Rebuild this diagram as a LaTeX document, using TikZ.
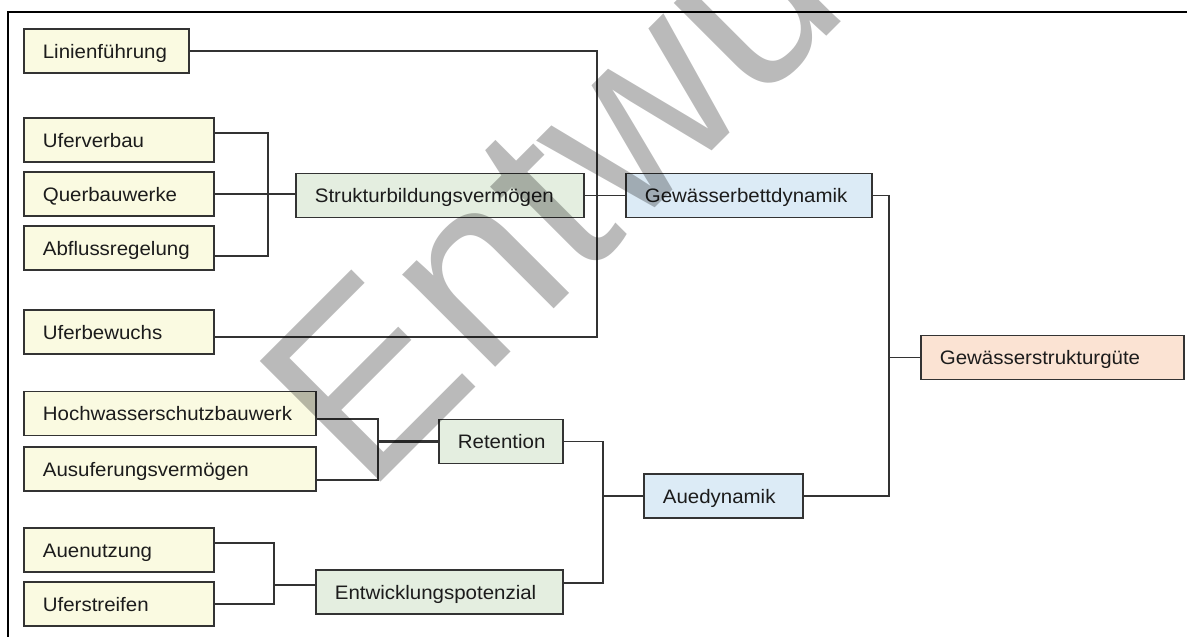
\documentclass[tikz,border=0pt]{standalone}
\usepackage{fontspec}
\setmainfont{Liberation Sans}[FakeStretch=1.05]
\newfontfamily\markfont{Liberation Sans}
\definecolor{edge}{HTML}{333333}
\definecolor{ink}{HTML}{1C1C1C}
\definecolor{inputfill}{HTML}{FAFAE1}
\definecolor{midfill}{HTML}{E4EEE0}
\definecolor{dynfill}{HTML}{DCEBF6}
\definecolor{goalfill}{HTML}{FBE3D3}
\begin{document}
\begin{tikzpicture}[x=1pt,y=-1pt,
  box/.style={draw=edge, line width=1.7, anchor=west, minimum height=44,
    inner xsep=19, inner ysep=0, text=ink, align=left,
    font=\fontsize{19.5}{22}\selectfont, text height=14, text depth=0},
  wbox/.style={box, minimum width=#1, text width=#1-38},
  inbox/.style={wbox=#1, fill=inputfill},
  midbox/.style={wbox=#1, fill=midfill},
  dynbox/.style={wbox=#1, fill=dynfill},
  goalbox/.style={wbox=#1, fill=goalfill},
  link/.style={draw=edge, line width=1.3},
  boldlink/.style={draw=edge, line width=2.4},
  frameline/.style={draw=black, line width=2}]
\useasboundingbox (0,0) rectangle (1187,637);
\fill[white] (0,0) rectangle (1187,637);

% frame
\draw[frameline] (7,12) -- (1187,12);
\draw[frameline] (8,12) -- (8,637);

% input factors
\node[inbox=165] (lin)  at (23,51)    {Linienführung};
\node[inbox=190] (ufv)  at (23,140)   {Uferverbau};
\node[inbox=190] (qbw)  at (23,194)   {Querbauwerke};
\node[inbox=190] (abr)  at (23,248)   {Abflussregelung};
\node[inbox=190] (ufb)  at (23,332)   {Uferbewuchs};
\node[inbox=292] (hws)  at (23,413.5) {Hochwasserschutzbauwerk};
\node[inbox=292] (ausv) at (23,469)   {Ausuferungsvermögen};
\node[inbox=190] (aue)  at (23,550)   {Auenutzung};
\node[inbox=190] (ufs)  at (23,604)   {Uferstreifen};

% intermediate factors
\node[midbox=288] (sbv) at (295,195.5) {Strukturbildungsvermögen};
\node[midbox=124] (ret) at (438,441.5) {Retention};
\node[midbox=247] (ewp) at (315,592)   {Entwicklungspotenzial};

% dynamics
\node[dynbox=246] (gbd) at (625,195.5) {Gewässerbettdynamik};
\node[dynbox=159] (aed) at (643,496)   {Auedynamik};

% result
\node[goalbox=263] (gsg) at (920,357.5) {Gewässerstrukturgüte};

% junction points
\coordinate (jS) at (268,194);
\coordinate (jL) at (597,195.5);
\coordinate (jG) at (889,357.5);
\coordinate (jR) at (378,441.5);
\coordinate (jA) at (603,496);
\coordinate (jE) at (274,585);

% Strukturbildungsvermögen
\draw[link] ([yshift=7pt]ufv.east) -| (jS);
\draw[link] ([yshift=-8pt]abr.east) -| (jS);
\draw[link] (qbw.east) -- (qbw.east -| sbv.west);

% Gewässerbettdynamik
\draw[link] (sbv.east) -- (gbd.west);
\draw[link] (lin.east) -| ([yshift=-5pt]ufb.east -| jL) -- ([yshift=-5pt]ufb.east);

% Retention
\draw[link] ([yshift=-5.5pt]hws.east) -| (jR);
\draw[link] ([yshift=-11pt]ausv.east) -| (jR);
\draw[boldlink] (jR) -- (ret.west);

% Entwicklungspotenzial
\draw[link] ([yshift=7pt]aue.east) -| (jE);
\draw[link] (ufs.east) -| (jE);
\draw[boldlink] (jE) -- (jE -| ewp.west);

% Auedynamik
\draw[link] (ret.east) -| (jA);
\draw[link] ([yshift=9pt]ewp.east) -| (jA);
\draw[link] (jA) -- (aed.west);

% Gewässerstrukturgüte
\draw[link] (gbd.east) -| (jG);
\draw[link] (aed.east) -| (jG);
\draw[link] (jG) -- (gsg.west);

% overprint
\node[anchor=base west, rotate=45, inner sep=0, text=black, text opacity=0.27,
  font=\markfont\fontsize{248}{250}\selectfont] (mark) at (366,497) {Entwurf};
\end{tikzpicture}
\end{document}
